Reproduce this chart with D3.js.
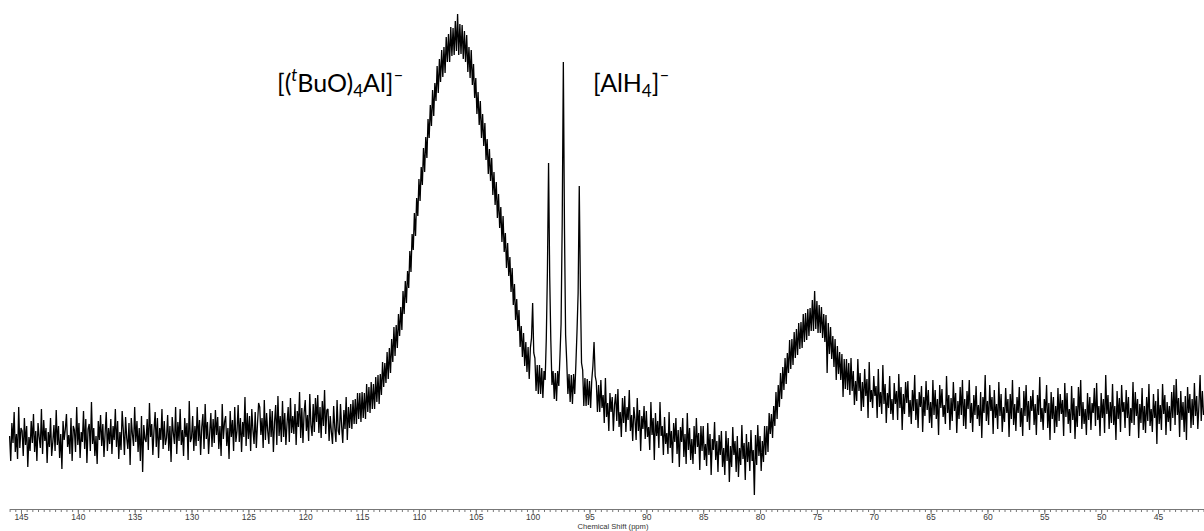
<!DOCTYPE html>
<html>
<head>
<meta charset="utf-8">
<script src="https://cdn.jsdelivr.net/npm/d3@7"></script>
<style>
  body { margin: 0; background: #fff; }
  svg { display: block; }
</style>
</head>
<body>
<svg id="chart" width="1204" height="531"></svg>
<script>
// 27Al spectrum: first point and spacing of the chemical-shift grid (ppm)
const shiftStart = 146.0;
const shiftStep = 0.1;

// Intensity (arbitrary units), one value per 0.1 ppm from 146.0 down to 41.0 ppm
const intensity = [
  4,-21,17,-3,28,-12,6,-19,33,-8,
  12,9,-16,22,-5,14,-27,3,-11,19,
  -3,26,-12,9,-21,17,3,-8,31,-14,
  20,-1,12,-23,8,-7,22,-16,-2,15,
  -11,30,-5,14,-18,6,-29,19,0,11,
  26,-7,5,-14,22,-21,14,10,-12,33,
  -5,17,-18,8,-2,29,-9,21,-23,11,
  16,-11,38,-4,12,-16,4,-24,19,0,
  25,-6,16,-17,7,28,-11,12,-4,21,
  -14,14,0,31,-7,19,-19,8,-10,29,
  10,-15,23,2,-9,17,-25,22,6,-6,
  33,-2,19,-12,12,-21,24,-32,15,1,
  -2,21,-10,37,3,16,-15,10,28,-7,
  22,-18,12,0,31,-9,19,-5,2,25,
  -11,14,-22,23,7,-4,33,-14,18,-1,
  31,-5,10,-16,22,3,17,-20,39,-2,
  2,24,-11,14,-6,33,-1,20,-15,13,
  26,-9,36,1,18,-14,7,27,-7,21,
  -3,30,5,23,-9,14,-16,36,1,18,
  24,-6,12,-19,29,3,20,-11,33,-2,
  9,35,-2,22,-12,18,3,43,-6,27,
  1,24,-11,31,10,-4,28,-8,16,37,
  33,5,22,-8,40,0,27,9,-4,31,
  3,29,-12,18,35,-5,44,4,24,-2,
  39,3,27,-5,17,33,-2,42,7,24,
  6,36,-5,29,13,48,2,32,-3,27,
  40,9,25,-1,46,15,4,36,8,42,
  18,45,7,33,2,39,14,50,6,30,
  31,-1,24,8,-4,34,12,-2,40,9,
  5,36,14,-3,30,11,43,0,33,12,
  36,11,40,16,41,16,47,21,47,18,
  48,22,47,21,56,28,53,27,58,31,
  56,31,63,38,65,36,66,45,78,53,
  77,57,88,61,92,67,101,78,113,84,
  115,92,126,104,133,110,149,126,159,137,
  169,152,189,168,206,190,227,204,242,224,
  261,239,273,255,292,268,303,282,321,302,
  335,314,350,324,357,339,374,347,381,358,
  390,363,393,367,403,378,406,378,413,384,
  412,385,419,389,426,385,416,386,415,381,
  409,378,405,368,393,362,390,355,376,342,
  362,326,348,315,339,302,326,294,317,280,
  301,266,291,259,282,245,268,235,258,222,
  246,212,233,198,224,188,207,172,197,164,
  183,148,172,135,156,120,141,109,130,93,
  114,83,107,74,98,68,93,61,92,102,
  137,87,82,49,75,46,75,46,72,42,
  69,60,101,169,277,164,99,55,69,41,
  67,39,69,54,83,116,216,378,211,105,
  78,46,66,38,65,36,66,46,75,108,
  147,254,151,77,70,34,62,34,61,35,
  59,32,60,74,98,64,58,28,55,28,
  60,32,45,17,62,23,37,9,47,28,
  43,9,35,46,19,51,13,28,3,42,
  17,44,8,33,20,50,9,25,-1,33,
  21,0,42,9,30,-11,24,11,34,1,
  29,3,13,-10,38,5,22,-20,27,4,
  19,-8,38,4,14,-15,23,-4,7,-14,
  28,-8,9,-23,17,-2,22,-14,10,-27,
  13,-2,22,-17,6,-24,27,-10,12,-20,
  1,-24,14,-14,22,-7,7,-30,14,-11,
  14,-20,-4,-26,17,-15,6,-35,1,-10,
  18,-20,-1,-32,5,-15,9,-27,-8,-35,
  9,-21,2,-42,-6,-27,13,-15,-1,-32,
  4,-37,-8,-25,15,-19,-3,-40,6,-22,
  -2,-31,10,-21,-10,-55,5,-25,15,-16,
  4,-31,-1,-22,14,-15,14,-12,27,6,
  26,2,34,14,48,21,55,33,67,41,
  73,50,82,56,87,67,100,71,101,75,
  108,82,111,85,117,91,118,92,126,98,
  127,100,131,104,132,109,140,109,149,111,
  139,107,135,107,133,102,126,98,125,67,
  117,86,113,81,104,73,101,60,94,66,
  88,60,86,43,81,51,81,50,77,45,
  82,49,69,35,59,39,81,49,67,29,
  58,33,71,44,61,22,78,38,50,32,
  64,44,54,22,71,33,48,26,75,36,
  56,17,47,32,64,26,41,20,57,36,
  49,20,66,32,53,10,46,26,58,37,
  59,23,40,16,50,29,65,20,41,12,
  48,33,54,8,43,24,59,30,50,17,
  38,12,60,25,50,21,41,5,55,32,
  51,23,35,16,64,27,45,10,42,19,
  58,29,47,7,39,21,53,25,60,14,
  41,11,49,31,60,17,37,8,45,25,
  54,21,35,14,48,2,43,27,65,19,
  39,15,55,29,43,6,50,22,36,11,
  58,24,46,8,33,18,52,27,41,3,
  46,21,60,15,36,9,43,27,53,13,
  32,4,49,24,55,18,39,10,44,29,
  50,15,36,5,45,25,63,18,32,10,
  41,27,55,12,37,0,48,21,43,7,
  34,13,52,19,46,26,40,4,57,23,
  47,16,31,7,54,20,42,1,34,13,
  53,24,60,11,38,16,31,5,47,20,
  43,10,37,27,52,14,57,20,34,4,
  47,22,41,7,65,26,45,11,38,17,
  56,15,34,0,49,21,42,8,55,28,
  38,12,50,22,43,4,32,17,58,15,
  48,24,41,2,36,17,52,10,34,7,
  43,19,56,14,31,8,46,22,39,-4,
  51,16,35,10,56,26,45,5,38,18,
  34,9,48,22,55,15,61,25,42,3,
  49,20,38,8,44,0,53,27,46,12,
  41,15,57,24,44,11,35,65,19,49,
  25
];

// Labelled axis ticks (ppm)
const tickLabels = [145, 140, 135, 130, 125, 120, 115, 110, 105, 100, 95, 90, 85, 80, 75, 70, 65, 60, 55, 50, 45];
const axisTitle = "Chemical Shift (ppm)";

const svg = d3.select("#chart");

// Chemical shift runs right-to-left, as usual for NMR
const x = d3.scaleLinear().domain([146, 41]).range([9.6, 1203.5]);
const y = d3.scaleLinear().domain([0, 400]).range([440, 40]);

const trace = d3.line()
  .x((d, i) => x(shiftStart - i * shiftStep))
  .y(d => y(d));

svg.append("path")
  .datum(intensity)
  .attr("d", trace)
  .attr("fill", "none")
  .attr("stroke", "#000")
  .attr("stroke-width", 1.3)
  .attr("stroke-linejoin", "miter")
  .attr("stroke-miterlimit", 2);

// Axis: minor ticks every 0.5 ppm, labelled ticks every 5 ppm
const axisY = 509;
const minorTicks = d3.range(41, 146.001, 0.5);

const minorAxis = svg.append("g")
  .attr("transform", `translate(0,${axisY})`)
  .call(d3.axisBottom(x).tickValues(minorTicks).tickSize(3).tickSizeOuter(0).tickFormat(""));

const majorAxis = svg.append("g")
  .attr("transform", `translate(0,${axisY})`)
  .call(d3.axisBottom(x).tickValues(tickLabels).tickSize(5).tickSizeOuter(0).tickPadding(0).tickFormat(d3.format("d")));

[minorAxis, majorAxis].forEach(g => {
  g.select(".domain").attr("stroke", "#777");
  g.selectAll(".tick line").attr("stroke", "#777");
});
majorAxis.selectAll(".tick text")
  .attr("fill", "#3a3a3a")
  .style("font-family", "'Liberation Sans', Arial, sans-serif")
  .style("font-size", "8.5px");

svg.append("text")
  .attr("x", 613)
  .attr("y", 528.5)
  .attr("text-anchor", "middle")
  .attr("fill", "#333")
  .style("font-family", "'Liberation Sans', Arial, sans-serif")
  .style("font-size", "7.6px")
  .text(axisTitle);

// Peak annotations
const labelFont = "Lato, 'Open Sans', sans-serif";

const lab1 = svg.append("text")
  .attr("x", 277).attr("y", 92)
  .style("font-family", labelFont)
  .style("font-size", "25px")
  .attr("fill", "#000");
lab1.append("tspan").text("[(");
lab1.append("tspan").text("t").style("font-style", "italic").style("font-size", "17px").attr("dy", -11);
lab1.append("tspan").text("BuO)").attr("dy", 11);
lab1.append("tspan").text("4").style("font-size", "17px").attr("dy", 5);
lab1.append("tspan").text("Al]").attr("dy", -5);
lab1.append("tspan").text("\u2013").style("font-size", "17px").attr("dy", -11);

const lab2 = svg.append("text")
  .attr("x", 593).attr("y", 92)
  .style("font-family", labelFont)
  .style("font-size", "25px")
  .attr("fill", "#000");
lab2.append("tspan").text("[AlH");
lab2.append("tspan").text("4").style("font-size", "17px").attr("dy", 5);
lab2.append("tspan").text("]").attr("dy", -5);
lab2.append("tspan").text("\u2013").style("font-size", "17px").attr("dy", -11);
</script>
</body>
</html>
